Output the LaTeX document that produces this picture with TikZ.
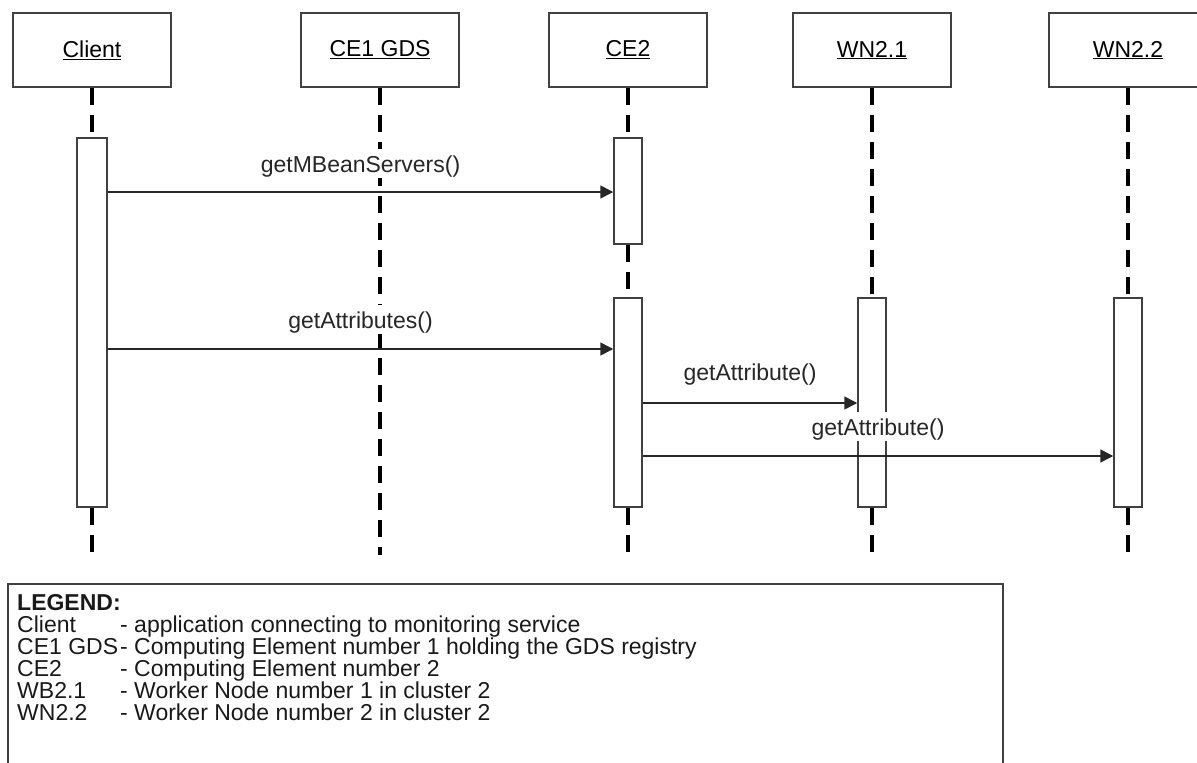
\documentclass[tikz,border=0pt]{standalone}
\usepackage{fontspec}
\setmainfont{Liberation Sans}
\usetikzlibrary{arrows.meta,calc}

\tikzset{
  head/.style={draw=black!75, line width=1.6pt, fill=white, minimum width=158pt,
               minimum height=74pt, inner sep=0pt, font=\fontsize{23}{23}\selectfont},
  act/.style={draw=black!75, line width=1.5pt, fill=white, minimum width=28pt, inner sep=0pt},
  life/.style={draw=black, line width=4pt, dash pattern=on 17pt off 10pt},
  msg/.style={draw=black!85, line width=1.5pt, -{Triangle[length=13pt,width=13pt]}},
  lbl/.style={fill=white, draw=none, inner xsep=1pt, inner ysep=1.5pt, text height=22pt,
              anchor=base, font=\fontsize{23}{23}\selectfont, text=black!85},
  legtxt/.style={anchor=base west, inner sep=0pt, font=\fontsize{23}{23}\selectfont, text=black!90},
}

\begin{document}
\begin{tikzpicture}[x=1pt,y=-1pt]
\useasboundingbox (0,0) rectangle (1197,763);

% object headers
\node[head] (client) at (92,50)   {\underline{Client}};
\node[head] (ceone)  at (380,50)  {\underline{CE1 GDS}};
\node[head] (cetwo)  at (628,50)  {\underline{CE2}};
\node[head] (wnone)  at (872,50)  {\underline{WN2.1}};
\node[head] (wntwo)  at (1128,50) {\underline{WN2.2}};

% reference levels
\coordinate (bottom) at (0,555);
\coordinate (m1) at (0,192);
\coordinate (m2) at (0,349);
\coordinate (m3) at (0,403);
\coordinate (m4) at (0,456);

% activation bars (placement)
\path (92,322.5)  node[act, minimum width=30pt, minimum height=369pt] (aclient) {};
\path (628,191)   node[act, minimum height=106pt] (acetwoa) {};
\path (628,402.5) node[act, minimum height=209pt] (acetwob) {};
\path (872,402.5) node[act, minimum height=209pt] (awnone)  {};
\path (1128,402.5) node[act, minimum height=209pt] (awntwo) {};

% lifelines
\draw[life] (client.south) -- (aclient.north);
\draw[life] (aclient.south) -- (client.south |- bottom);
\draw[life] (ceone.south) -- (ceone.south |- bottom);
\draw[life] (cetwo.south) -- (acetwoa.north);
\draw[life] (acetwoa.south) -- (acetwob.north);
\draw[life] (acetwob.south) -- (cetwo.south |- bottom);
\draw[life] (wnone.south) -- (awnone.north);
\draw[life] (awnone.south) -- (wnone.south |- bottom);
\draw[life] (wntwo.south) -- (awntwo.north);
\draw[life] (awntwo.south) -- (wntwo.south |- bottom);

% activation bars drawn over the lifelines
\node[act, minimum width=30pt, minimum height=369pt] at (aclient) {};
\node[act, minimum height=106pt] at (acetwoa) {};
\node[act, minimum height=209pt] at (acetwob) {};
\node[act, minimum height=209pt] at (awnone) {};
\node[act, minimum height=209pt] at (awntwo) {};

% messages
\draw[msg] (aclient.east |- m1) -- (acetwoa.west |- m1);
\draw[msg] (aclient.east |- m2) -- (acetwob.west |- m2);
\draw[msg] (acetwob.east |- m3) -- (awnone.west |- m3);
\draw[msg] (acetwob.east |- m4) -- (awntwo.west |- m4);

% message labels, on white so they mask the lines behind them
\node[lbl] (l1) at ($($(aclient.east |- m1)!0.5!(acetwoa.west |- m1)$)+(0,-20)$) {getMBeanServers()};
\node[lbl] (l2) at ($($(aclient.east |- m2)!0.5!(acetwob.west |- m2)$)+(0,-21)$) {getAttributes()};
\node[lbl] (l3) at ($($(acetwob.east |- m3)!0.5!(awnone.west |- m3)$)+(0,-23)$) {getAttribute()};
\node[lbl] (l4) at ($($(acetwob.east |- m4)!0.5!(awntwo.west |- m4)$)+(0,-21)$) {getAttribute()};

% legend
\draw[draw=black!75, line width=1.6pt] (8,763) -- (8,584) -- (1003,584) -- (1003,763);
\node[legtxt] (lg0) at (17,610) {\textbf{LEGEND:}};
\node[legtxt] (lk1) at (17,632) {Client};
\node[legtxt] (ld1) at (120,632) {- application connecting to monitoring service};
\node[legtxt] (lk2) at (17,654) {CE1 GDS};
\node[legtxt] (ld2) at (120,654) {- Computing Element number 1 holding the GDS registry};
\node[legtxt] (lk3) at (17,676) {CE2};
\node[legtxt] (ld3) at (120,676) {- Computing Element number 2};
\node[legtxt] (lk4) at (17,698) {WB2.1};
\node[legtxt] (ld4) at (120,698) {- Worker Node number 1 in cluster 2};
\node[legtxt] (lk5) at (17,720) {WN2.2};
\node[legtxt] (ld5) at (120,720) {- Worker Node number 2 in cluster 2};
\end{tikzpicture}
\end{document}
